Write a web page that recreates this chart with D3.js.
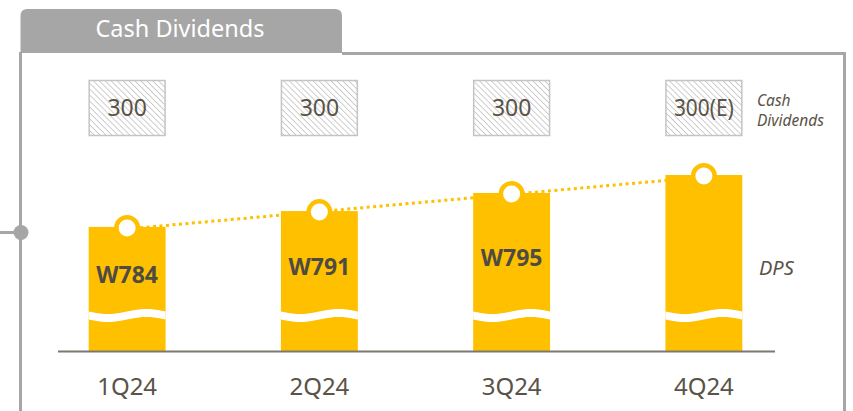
<!DOCTYPE html>
<html>
<head>
<meta charset="utf-8">
<script src="https://cdn.jsdelivr.net/npm/d3@7"></script>
<style>
  body { margin: 0; background: #fff; }
  svg { display: block; font-family: "Noto Sans", "Open Sans", sans-serif; }
</style>
</head>
<body>
<svg id="chart" width="853" height="411"></svg>
<script>
// data
var quarters = ["1Q24", "2Q24", "3Q24", "4Q24"];
var cashDividends = ["300", "300", "300", "300(E)"];
var dpsValues = [784, 791, 795, null];
// bar heights on the broken axis (relative, 4Q24 = 100)
var barLevels = [70.5, 79.5, 89.8, 100];

var width = 853;
var height = 411;
var yellow = "#ffc000";
var frameGrey = "#a6a6a6";
var textGrey = "#5a5347";

var svg = d3.select("#chart");

// hatch pattern for the cash dividend boxes
var defs = svg.append("defs");
var hatch = defs.append("pattern")
    .attr("id", "hatch")
    .attr("patternUnits", "userSpaceOnUse")
    .attr("width", 4.2)
    .attr("height", 4.2)
    .attr("patternTransform", "rotate(-45)");
hatch.append("rect").attr("width", 4.2).attr("height", 4.2).attr("fill", "#fff");
hatch.append("line")
    .attr("x1", 0).attr("y1", 0).attr("x2", 0).attr("y2", 4.2)
    .attr("stroke", "#c2c2c2")
    .attr("stroke-width", 1.6);

// frame + tab
svg.append("path")
    .attr("d", "M20.5,53 L20.5,16 Q20.5,9 27.5,9 L335,9 Q342,9 342,16 L342,53 Z")
    .attr("fill", frameGrey);
svg.append("path")
    .attr("d", "M20.5,52 L20.5," + height + " M342,53.5 L844.5,53.5 L844.5," + height)
    .attr("fill", "none")
    .attr("stroke", frameGrey)
    .attr("stroke-width", 3);
svg.append("line")
    .attr("x1", 0).attr("x2", 21).attr("y1", 232.5).attr("y2", 232.5)
    .attr("stroke", frameGrey)
    .attr("stroke-width", 3);
svg.append("circle")
    .attr("cx", 21).attr("cy", 232.5).attr("r", 7.5)
    .attr("fill", frameGrey);
svg.append("text")
    .attr("x", 180).attr("y", 37)
    .attr("text-anchor", "middle")
    .attr("fill", "#fff")
    .style("font-size", "23.5px")
    .text("Cash Dividends");

// scales
var xScale = d3.scaleBand()
    .domain(quarters)
    .range([31, 800])
    .paddingInner(0.6)
    .paddingOuter(0.3);
var yScale = d3.scaleLinear()
    .domain([0, 100])
    .range([351, 175]);

var bw = xScale.bandwidth();
function cx(q) { return xScale(q) + bw / 2; }

// dotted trend line, first point to last point (behind bars)
var trend = [0, quarters.length - 1];
svg.append("path")
    .datum(trend)
    .attr("fill", "none")
    .attr("stroke", yellow)
    .attr("stroke-width", 3)
    .attr("stroke-dasharray", "3,3.5")
    .attr("d", d3.line()
        .x(function(i) { return cx(quarters[i]); })
        .y(function(i) { return yScale(barLevels[i]) + 2; }));

// bars
var bars = svg.append("g").selectAll("g.bar")
    .data(quarters)
    .enter()
    .append("g")
    .attr("class", "bar");

bars.append("circle")
    .attr("cx", function(d) { return cx(d); })
    .attr("cy", function(d, i) { return yScale(barLevels[i]) + 1; })
    .attr("r", 13)
    .attr("fill", yellow);

bars.append("rect")
    .attr("x", function(d) { return xScale(d); })
    .attr("y", function(d, i) { return yScale(barLevels[i]); })
    .attr("width", bw)
    .attr("height", function(d, i) { return yScale(0) - yScale(barLevels[i]); })
    .attr("fill", yellow);

bars.append("circle")
    .attr("cx", function(d) { return cx(d); })
    .attr("cy", function(d, i) { return yScale(barLevels[i]) + 1; })
    .attr("r", 8.5)
    .attr("fill", "#fff");

// wavy break across each bar
var waveY = 315.5;
bars.append("path")
    .attr("fill", "#fff")
    .attr("d", function(d) {
        var x0 = xScale(d);
        var pts = d3.range(0, 21).map(function(k) {
            var t = k / 20;
            return [x0 + t * bw, waveY + 2.6 * Math.sin(2 * Math.PI * t)];
        });
        var top = pts.map(function(p) { return [p[0], p[1] - 4]; });
        var bottom = pts.map(function(p) { return [p[0], p[1] + 4]; }).reverse();
        return d3.line()(top.concat(bottom)) + "Z";
    });

// DPS labels
bars.filter(function(d, i) { return dpsValues[i] !== null; })
    .append("text")
    .attr("x", function(d) { return cx(d); })
    .attr("y", function(d) {
        var i = quarters.indexOf(d);
        return (yScale(barLevels[i]) + waveY) / 2 + 12;
    })
    .attr("text-anchor", "middle")
    .attr("fill", "#4e4b44")
    .style("font-size", "23px")
    .style("font-weight", "bold")
    .text(function(d) { return "W" + dpsValues[quarters.indexOf(d)]; });

// cash dividend boxes
var boxes = svg.append("g").selectAll("g.box")
    .data(quarters)
    .enter()
    .append("g")
    .attr("class", "box");

boxes.append("rect")
    .attr("x", function(d) { return xScale(d) + 0.5; })
    .attr("y", 80.5)
    .attr("width", bw - 1)
    .attr("height", 55)
    .attr("fill", "url(#hatch)")
    .attr("stroke", "#c4c4c4")
    .attr("stroke-width", 1.5);

boxes.append("text")
    .attr("x", function(d) { return cx(d); })
    .attr("y", 116)
    .attr("text-anchor", "middle")
    .attr("fill", textGrey)
    .style("font-size", "23px")
    .each(function(d, i) {
        if (cashDividends[i].length > 3) {
            d3.select(this)
                .attr("textLength", 60)
                .attr("lengthAdjust", "spacingAndGlyphs");
        }
    })
    .text(function(d, i) { return cashDividends[i]; });

// baseline
svg.append("line")
    .attr("x1", 58).attr("x2", 775)
    .attr("y1", yScale(0) + 0.5).attr("y2", yScale(0) + 0.5)
    .attr("stroke", "#7d786e")
    .attr("stroke-width", 2);

// x axis labels
var xAxis = d3.axisBottom(xScale).tickSize(0).tickPadding(27);
var gx = svg.append("g")
    .attr("transform", "translate(0," + yScale(0) + ")")
    .call(xAxis);
gx.select(".domain").remove();
gx.selectAll("text")
    .attr("fill", textGrey)
    .style("font-family", "\"Noto Sans\", sans-serif")
    .style("font-size", "24px");

// series labels on the right
var side = svg.append("g")
    .attr("fill", textGrey)
    .style("font-style", "italic")
    .style("font-size", "15.5px");
side.append("text").attr("x", 757).attr("y", 105.5).text("Cash");
side.append("text").attr("x", 757).attr("y", 125.5).text("Dividends");
side.append("text").attr("x", 759).attr("y", 275).style("font-size", "20px").text("DPS");
</script>
</body>
</html>
